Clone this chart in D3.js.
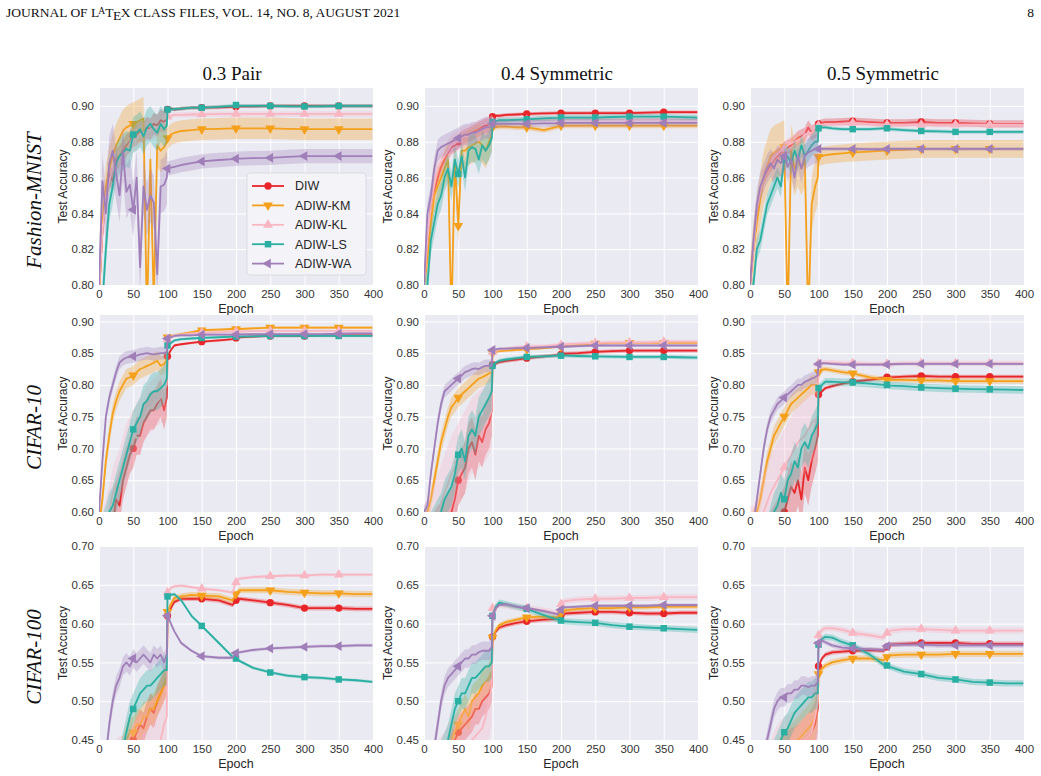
<!DOCTYPE html>
<html>
<head>
<meta charset="utf-8">
<script src="https://cdn.jsdelivr.net/npm/d3@7"></script>
<style>
  body { margin: 0; background: #fff; }
  .tick text { font-family: "Liberation Sans", Arial, sans-serif; font-size: 11.5px; fill: #333; }
  .grid line { stroke: #fff; stroke-width: 1; }
</style>
</head>
<body>
<div id="chart"></div>
<script>
const epochs = [0,5,10,15,20,25,30,35,40,45,50,55,60,65,70,75,80,85,90,95,99,
                100,105,110,120,135,150,175,195,200,205,225,250,275,300,325,350,375,399];

const seriesNames = ["DIW", "ADIW-KM", "ADIW-KL", "ADIW-LS", "ADIW-WA"];
const colTitles = ["0.3 Pair", "0.4 Symmetric", "0.5 Symmetric"];
const rowTitles = ["Fashion-MNIST", "CIFAR-10", "CIFAR-100"];
const yDomains = [[0.80, 0.91], [0.60, 0.91], [0.45, 0.70]];
const yTicks = [
    [0.80, 0.82, 0.84, 0.86, 0.88, 0.90],
    [0.60, 0.65, 0.70, 0.75, 0.80, 0.85, 0.90],
    [0.45, 0.50, 0.55, 0.60, 0.65, 0.70]
];
const xTicks = [0, 50, 100, 150, 200, 250, 300, 350, 400];

// Fashion-MNIST, 0.3 pair
const fmPairDIW = [.795,.83,.85,.862,.858,.87,.872,.875,.878,.88,.883,.884,.886,.885,.888,.887,.89,.889,.892,.891,.893,
    .898,.8985,.898,.8985,.899,.899,.8992,.8995,.8995,.8998,.8998,.900,.900,.900,.900,.900,.900,.900];
const fmPairKM = [.79,.835,.855,.865,.872,.878,.882,.886,.888,.889,.89,.891,.892,.893,.78,.87,.79,.878,.875,.877,.88,
    .882,.884,.885,.886,.8865,.887,.8872,.8875,.8875,.8875,.8875,.8875,.8872,.887,.887,.887,.887,.887];
const fmPairKL = [.795,.83,.848,.858,.864,.868,.87,.873,.875,.877,.88,.882,.884,.885,.886,.887,.888,.888,.889,.89,.891,
    .894,.8945,.895,.895,.8952,.8953,.8955,.8955,.8955,.8955,.8955,.8955,.8955,.8955,.8955,.8955,.8955,.8955];
const fmPairLS = [.78,.79,.82,.845,.855,.868,.872,.874,.876,.875,.884,.885,.887,.883,.888,.89,.887,.885,.89,.887,.889,
    .898,.898,.8982,.8985,.899,.899,.8995,.900,.9005,.900,.900,.900,.8998,.8997,.8998,.900,.900,.900];
const fmPairWA = [.80,.858,.84,.868,.875,.862,.85,.874,.852,.856,.842,.86,.81,.855,.842,.85,.846,.806,.855,.856,.86,
    .865,.8655,.866,.867,.868,.869,.8698,.8703,.8705,.8706,.8708,.871,.8715,.872,.872,.872,.872,.872];

// Fashion-MNIST, 0.4 symmetric
const fm04DIW = [.80,.82,.845,.853,.86,.866,.87,.874,.877,.878,.88,.882,.883,.884,.885,.886,.887,.888,.889,.889,.89,
    .894,.8945,.8945,.895,.8952,.8955,.8958,.896,.896,.896,.896,.896,.896,.896,.8962,.8965,.8965,.8965];
const fm04KM = [.80,.815,.835,.85,.855,.86,.865,.87,.78,.87,.833,.875,.875,.877,.878,.879,.88,.878,.875,.88,.885,
    .888,.8882,.8885,.8885,.888,.888,.8865,.8885,.889,.889,.889,.889,.889,.889,.889,.889,.889,.889];
const fm04KL = [.80,.825,.845,.856,.865,.869,.872,.875,.878,.879,.881,.882,.883,.883,.884,.885,.886,.887,.888,.888,.889,
    .891,.8912,.8915,.8918,.892,.892,.8922,.8925,.8925,.8925,.8925,.8925,.8925,.8925,.8925,.8925,.8925,.8925];
const fm04LS = [.795,.80,.825,.835,.845,.85,.86,.865,.855,.87,.862,.872,.86,.875,.877,.876,.87,.878,.875,.878,.882,
    .891,.8915,.892,.892,.8922,.8925,.893,.8933,.8935,.8935,.8935,.8935,.8938,.894,.894,.894,.8937,.8935];
const fm04WA = [.80,.84,.85,.865,.875,.877,.878,.879,.88,.881,.882,.883,.884,.884,.885,.885,.886,.887,.888,.888,.889,
    .89,.89,.89,.89,.89,.89,.8902,.8903,.8905,.8905,.8905,.8905,.8905,.8905,.8905,.8905,.8905,.8905];

// Fashion-MNIST, 0.5 symmetric
const fm05DIW = [.80,.82,.84,.85,.86,.864,.867,.87,.872,.874,.876,.877,.878,.88,.882,.883,.884,.888,.885,.886,.888,
    .89,.8905,.891,.891,.8912,.8915,.891,.8905,.8905,.8905,.8905,.891,.8905,.8905,.8903,.89,.89,.89];
const fm05KM = [.80,.82,.835,.848,.86,.866,.872,.874,.875,.876,.877,.78,.875,.865,.87,.865,.87,.78,.845,.855,.86,
    .8715,.872,.8725,.873,.8735,.874,.8745,.875,.875,.8752,.8755,.876,.876,.876,.876,.876,.876,.876];
const fm05KL = [.80,.82,.842,.852,.86,.865,.868,.871,.873,.875,.876,.878,.879,.88,.881,.882,.884,.885,.885,.886,.887,
    .889,.8895,.8898,.89,.89,.8905,.89,.8895,.8895,.8895,.8895,.8895,.8895,.8895,.8895,.8895,.8895,.8895];
const fm05LS = [.79,.80,.82,.825,.835,.845,.85,.855,.86,.855,.87,.872,.868,.875,.87,.878,.872,.875,.878,.88,.88,
    .8875,.888,.888,.8875,.887,.887,.887,.8875,.8875,.887,.8865,.886,.8858,.8855,.8855,.8855,.8855,.8855];
const fm05WA = [.80,.825,.845,.855,.86,.865,.868,.865,.87,.868,.872,.866,.87,.86,.872,.865,.872,.874,.875,.876,.876,
    .876,.876,.876,.876,.876,.876,.8758,.8758,.876,.876,.876,.876,.876,.876,.876,.876,.876,.876];

// CIFAR-10, 0.3 pair
const c10PairDIW = [.55,.55,.555,.565,.58,.62,.61,.65,.67,.69,.70,.72,.72,.74,.75,.76,.76,.77,.78,.76,.78,
    .845,.855,.862,.864,.866,.868,.87,.872,.874,.875,.876,.877,.877,.877,.878,.878,.878,.878];
const c10PairKM = [.58,.62,.68,.72,.755,.775,.79,.80,.81,.812,.815,.82,.825,.827,.83,.832,.835,.838,.83,.833,.84,
    .875,.876,.878,.88,.883,.886,.887,.888,.888,.888,.889,.89,.89,.89,.89,.89,.89,.89];
const c10PairKL = [.55,.56,.58,.60,.63,.645,.66,.68,.70,.71,.72,.73,.74,.75,.76,.765,.77,.775,.78,.79,.80,
    .872,.875,.878,.879,.881,.882,.883,.884,.884,.884,.8845,.885,.885,.885,.885,.885,.885,.885];
const c10PairLS = [.55,.565,.58,.60,.61,.63,.65,.67,.69,.71,.73,.74,.75,.77,.775,.785,.79,.79,.795,.80,.81,
    .862,.866,.87,.872,.873,.874,.875,.876,.876,.8762,.8765,.877,.877,.877,.877,.877,.877,.877];
const c10PairWA = [.60,.68,.75,.78,.80,.82,.835,.84,.843,.844,.845,.846,.848,.849,.85,.849,.848,.849,.85,.85,.852,
    .873,.875,.877,.878,.878,.879,.879,.879,.879,.8795,.8797,.88,.88,.88,.88,.8805,.881,.881];

// CIFAR-10, 0.4 symmetric
const c10s4DIW = [.55,.55,.555,.56,.57,.575,.58,.59,.60,.62,.65,.66,.67,.70,.71,.69,.72,.71,.73,.74,.76,
    .832,.834,.836,.838,.84,.842,.845,.847,.848,.849,.85,.852,.853,.854,.854,.854,.854,.854];
const c10s4KM = [.58,.60,.62,.65,.68,.71,.73,.75,.765,.772,.78,.785,.79,.795,.80,.805,.81,.812,.815,.818,.82,
    .85,.852,.853,.854,.855,.856,.858,.86,.86,.861,.863,.865,.866,.866,.866,.866,.866,.866];
const c10s4KL = [.55,.56,.57,.585,.60,.615,.63,.645,.66,.67,.68,.69,.70,.71,.72,.725,.73,.735,.74,.75,.76,
    .852,.854,.856,.857,.859,.86,.861,.863,.863,.864,.865,.866,.867,.867,.867,.868,.868,.868];
const c10s4LS = [.55,.56,.57,.58,.59,.60,.62,.63,.64,.66,.69,.70,.68,.72,.73,.72,.75,.76,.77,.78,.79,
    .83,.835,.838,.84,.842,.844,.845,.846,.846,.846,.8455,.845,.8445,.844,.844,.844,.8435,.843];
const c10s4WA = [.60,.61,.66,.70,.74,.77,.79,.795,.80,.805,.81,.815,.82,.822,.825,.826,.825,.828,.83,.83,.83,
    .855,.856,.857,.857,.858,.858,.859,.86,.86,.86,.861,.862,.862,.862,.862,.862,.862,.862];

// CIFAR-10, 0.5 symmetric
const c10s5DIW = [.55,.55,.55,.55,.55,.555,.56,.57,.58,.59,.60,.62,.64,.63,.65,.62,.67,.65,.68,.70,.72,
    .785,.79,.795,.798,.802,.805,.808,.811,.812,.812,.813,.814,.813,.813,.813,.813,.813,.813];
const c10s5KM = [.58,.59,.60,.62,.65,.68,.70,.72,.73,.74,.75,.76,.77,.775,.78,.785,.79,.795,.80,.80,.80,
    .82,.824,.825,.823,.82,.818,.812,.809,.808,.808,.808,.807,.807,.806,.806,.806,.806,.806];
const c10s5KL = [.55,.55,.56,.58,.60,.615,.63,.64,.65,.66,.67,.68,.69,.70,.71,.715,.72,.73,.74,.745,.75,
    .834,.835,.835,.835,.834,.834,.833,.833,.833,.833,.834,.834,.834,.834,.834,.834,.834,.834];
const c10s5LS = [.55,.55,.55,.55,.55,.56,.58,.60,.61,.63,.62,.65,.66,.68,.67,.70,.71,.70,.72,.73,.74,
    .795,.80,.805,.805,.804,.804,.802,.80,.80,.799,.798,.796,.795,.794,.7935,.793,.7925,.792];
const c10s5WA = [.55,.58,.62,.66,.70,.73,.75,.76,.77,.775,.78,.785,.79,.795,.80,.80,.805,.807,.81,.812,.815,
    .833,.834,.834,.833,.832,.832,.832,.832,.832,.8325,.833,.833,.833,.833,.833,.833,.833,.833];

// CIFAR-100, 0.3 pair
const c100PairDIW = [.38,.38,.38,.385,.39,.40,.41,.415,.42,.44,.45,.46,.47,.465,.48,.49,.485,.50,.51,.52,.53,
    .61,.62,.628,.632,.632,.632,.63,.624,.63,.632,.63,.627,.624,.62,.62,.62,.619,.619];
const c100PairKM = [.38,.38,.385,.39,.40,.41,.42,.435,.45,.46,.46,.47,.47,.48,.48,.49,.49,.50,.51,.52,.53,
    .615,.625,.633,.635,.637,.636,.635,.63,.638,.643,.643,.643,.641,.64,.639,.639,.638,.638];
const c100PairKL = [.38,.385,.39,.395,.40,.40,.405,.405,.41,.415,.42,.425,.43,.432,.435,.44,.44,.445,.45,.47,.48,
    .64,.646,.648,.649,.647,.645,.643,.64,.653,.658,.66,.661,.662,.662,.663,.663,.663,.663];
const c100PairLS = [.38,.38,.385,.39,.40,.41,.42,.44,.46,.48,.49,.50,.51,.515,.52,.52,.525,.53,.535,.54,.54,
    .635,.637,.638,.63,.61,.597,.575,.557,.555,.552,.543,.537,.533,.531,.53,.528,.527,.525];
const c100PairWA = [.40,.41,.43,.47,.50,.52,.53,.545,.55,.545,.555,.55,.555,.56,.555,.55,.56,.555,.56,.55,.56,
    .61,.60,.59,.575,.565,.558,.556,.556,.562,.563,.566,.568,.569,.57,.571,.571,.572,.572];

// CIFAR-100, 0.4 symmetric
const c100s4DIW = [.38,.38,.385,.39,.40,.41,.42,.43,.44,.45,.46,.465,.47,.475,.48,.49,.49,.50,.505,.51,.52,
    .583,.59,.595,.598,.601,.603,.605,.606,.611,.613,.614,.615,.615,.614,.613,.613,.614,.614];
const c100s4KM = [.38,.38,.385,.39,.40,.41,.42,.435,.45,.46,.47,.48,.49,.48,.50,.505,.51,.52,.525,.53,.54,
    .582,.592,.598,.602,.605,.608,.609,.608,.613,.617,.619,.62,.62,.621,.621,.622,.622,.622];
const c100s4KL = [.38,.385,.39,.395,.40,.405,.41,.42,.43,.432,.435,.437,.44,.445,.45,.455,.46,.465,.48,.50,.52,
    .62,.622,.624,.623,.621,.62,.617,.613,.625,.629,.631,.632,.632,.633,.633,.634,.634,.634];
const c100s4LS = [.40,.40,.405,.41,.42,.43,.44,.45,.47,.49,.50,.51,.51,.52,.53,.53,.535,.54,.545,.545,.55,
    .61,.622,.627,.625,.622,.619,.611,.605,.604,.603,.602,.601,.598,.596,.595,.594,.593,.592];
const c100s4WA = [.38,.39,.41,.44,.47,.50,.52,.53,.535,.54,.545,.55,.555,.555,.56,.56,.563,.565,.565,.565,.57,
    .61,.62,.624,.625,.622,.62,.616,.612,.618,.621,.622,.623,.623,.623,.623,.624,.624,.624];

// CIFAR-100, 0.5 symmetric
const c100s5DIW = [.38,.38,.38,.385,.39,.39,.395,.40,.41,.42,.43,.432,.435,.437,.44,.445,.45,.455,.46,.47,.49,
    .545,.555,.56,.563,.564,.565,.566,.565,.57,.573,.574,.575,.575,.575,.574,.574,.574,.574];
const c100s5KM = [.38,.38,.38,.385,.39,.395,.40,.41,.42,.425,.43,.435,.44,.445,.45,.455,.46,.465,.47,.48,.50,
    .535,.542,.546,.55,.553,.555,.555,.553,.557,.559,.56,.56,.56,.561,.561,.561,.561,.561];
const c100s5KL = [.38,.38,.38,.385,.39,.395,.40,.41,.42,.425,.43,.432,.435,.437,.44,.445,.45,.455,.46,.48,.50,
    .585,.592,.594,.594,.592,.588,.585,.582,.588,.591,.593,.593,.592,.591,.591,.591,.591,.591];
const c100s5LS = [.38,.38,.385,.39,.40,.41,.42,.43,.44,.45,.46,.465,.475,.485,.49,.495,.50,.505,.505,.51,.51,
    .573,.58,.583,.582,.576,.572,.56,.547,.546,.544,.538,.535,.53,.528,.525,.524,.523,.523];
const c100s5WA = [.38,.39,.40,.41,.43,.45,.47,.49,.50,.505,.505,.51,.51,.515,.515,.52,.52,.518,.52,.52,.525,
    .575,.578,.576,.572,.569,.568,.567,.566,.571,.573,.573,.573,.572,.572,.572,.572,.572,.572];

// std half-widths of the shaded bands, [before epoch 100, after]
const fmPairBand = [[.006,.001],[.012,.006],[.006,.0015],[.01,.001],[.015,.004]];
const fm04Band = [[.004,.001],[.01,.0015],[.006,.002],[.008,.0015],[.006,.002]];
const fm05Band = [[.004,.002],[.015,.005],[.004,.0015],[.006,.001],[.008,.001]];
const c10PairBand = [[.03,.002],[.015,.002],[.04,.002],[.03,.002],[.01,.002]];
const c10s4Band = [[.04,.003],[.015,.002],[.06,.003],[.03,.003],[.01,.002]];
const c10s5Band = [[.04,.003],[.015,.004],[.06,.004],[.03,.006],[.01,.002]];
const c100PairBand = [[.02,.003],[.02,.004],[.05,.002],[.02,.002],[.012,.002]];
const c100s4Band = [[.02,.003],[.02,.003],[.05,.004],[.02,.004],[.012,.002]];
const c100s5Band = [[.03,.003],[.03,.004],[.05,.004],[.02,.004],[.012,.003]];

const panels = [
    { row: 0, col: 0, series: [fmPairDIW, fmPairKM, fmPairKL, fmPairLS, fmPairWA], band: fmPairBand },
    { row: 0, col: 1, series: [fm04DIW, fm04KM, fm04KL, fm04LS, fm04WA], band: fm04Band },
    { row: 0, col: 2, series: [fm05DIW, fm05KM, fm05KL, fm05LS, fm05WA], band: fm05Band },
    { row: 1, col: 0, series: [c10PairDIW, c10PairKM, c10PairKL, c10PairLS, c10PairWA], band: c10PairBand },
    { row: 1, col: 1, series: [c10s4DIW, c10s4KM, c10s4KL, c10s4LS, c10s4WA], band: c10s4Band },
    { row: 1, col: 2, series: [c10s5DIW, c10s5KM, c10s5KL, c10s5LS, c10s5WA], band: c10s5Band },
    { row: 2, col: 0, series: [c100PairDIW, c100PairKM, c100PairKL, c100PairLS, c100PairWA], band: c100PairBand },
    { row: 2, col: 1, series: [c100s4DIW, c100s4KM, c100s4KL, c100s4LS, c100s4WA], band: c100s4Band },
    { row: 2, col: 2, series: [c100s5DIW, c100s5KM, c100s5KL, c100s5LS, c100s5WA], band: c100s5Band }
];

// styling
const colors = ["#e8262a", "#f5a01a", "#f8b6c2", "#2ab0a3", "#a07fb9"];
const symbols = [
    { type: d3.symbolCircle, rot: 0 },
    { type: d3.symbolTriangle, rot: 180 },
    { type: d3.symbolTriangle, rot: 0 },
    { type: d3.symbolSquare, rot: 0 },
    { type: d3.symbolTriangle, rot: -90 }
];
const colX = [99, 424, 750];
const plotW = 274;
const rowY = [88, 315, 546];
const rowH = [197, 197, 194];
const sans = '"Liberation Sans", Arial, sans-serif';
const serif = '"Liberation Serif", "Times New Roman", serif';

const svg = d3.select("#chart").append("svg")
    .attr("width", 1041)
    .attr("height", 776);
svg.append("rect").attr("width", 1041).attr("height", 776).attr("fill", "#fff");

// page header
const header = svg.append("text")
    .attr("x", 6).attr("y", 17)
    .attr("font-family", serif).attr("font-size", 13.5).attr("fill", "#111");
header.append("tspan").text("JOURNAL OF L");
header.append("tspan").text("A").attr("font-size", 9.5).attr("dx", -1).attr("dy", -3);
header.append("tspan").text("T").attr("dx", 0).attr("dy", 3);
header.append("tspan").text("E").attr("dx", -0.5).attr("dy", 3);
header.append("tspan").text("X").attr("dx", -0.5).attr("dy", -3);
header.append("tspan").text(" CLASS FILES, VOL. 14, NO. 8, AUGUST 2021");
svg.append("text")
    .attr("x", 1034).attr("y", 17).attr("text-anchor", "end")
    .attr("font-family", serif).attr("font-size", 13.5).attr("fill", "#111")
    .text("8");

// column titles and row labels
colTitles.forEach((t, c) => {
    svg.append("text")
        .attr("x", colX[c] + plotW / 2 - 4).attr("y", 80)
        .attr("text-anchor", "middle")
        .attr("font-family", serif).attr("font-size", 19).attr("fill", "#111")
        .text(t);
});
rowTitles.forEach((t, r) => {
    const cy = rowY[r] + rowH[r] / 2 + 14;
    svg.append("text")
        .attr("transform", `translate(41,${cy}) rotate(-90)`)
        .attr("text-anchor", "middle")
        .attr("font-family", serif).attr("font-size", 21)
        .attr("font-style", "italic").attr("fill", "#111")
        .text(t);
});

const markIdx = epochs.map((e, i) => (e > 0 && e < 400 && e % 50 === 0) ? i : -1).filter(i => i >= 0);

panels.forEach((p, pi) => {
    const x0 = colX[p.col], y0 = rowY[p.row], h = rowH[p.row];
    const x = d3.scaleLinear().domain([0, 400]).range([x0, x0 + plotW]);
    const y = d3.scaleLinear().domain(yDomains[p.row]).range([y0 + h, y0]);
    const g = svg.append("g");

    g.append("rect")
        .attr("x", x0).attr("y", y0).attr("width", plotW).attr("height", h)
        .attr("fill", "#eaeaf2");

    // grid
    g.append("g").attr("class", "grid")
        .attr("transform", `translate(0,${y0 + h})`)
        .call(d3.axisBottom(x).tickValues(xTicks).tickSize(-h).tickFormat(""))
        .call(s => s.select(".domain").remove());
    g.append("g").attr("class", "grid")
        .attr("transform", `translate(${x0},0)`)
        .call(d3.axisLeft(y).tickValues(yTicks[p.row]).tickSize(-plotW).tickFormat(""))
        .call(s => s.select(".domain").remove());

    // tick labels
    g.append("g")
        .attr("transform", `translate(0,${y0 + h})`)
        .call(d3.axisBottom(x).tickValues(xTicks).tickSize(0).tickPadding(5))
        .call(s => s.select(".domain").remove());
    g.append("g")
        .attr("transform", `translate(${x0},0)`)
        .call(d3.axisLeft(y).tickValues(yTicks[p.row]).tickFormat(d3.format(".2f")).tickSize(0).tickPadding(5))
        .call(s => s.select(".domain").remove());

    g.append("text")
        .attr("x", x0 + plotW / 2).attr("y", y0 + h + 28)
        .attr("text-anchor", "middle")
        .attr("font-family", sans).attr("font-size", 12.5).attr("fill", "#262626")
        .text("Epoch");
    g.append("text")
        .attr("transform", `translate(${x0 - 32},${y0 + h / 2}) rotate(-90)`)
        .attr("text-anchor", "middle")
        .attr("font-family", sans).attr("font-size", 12).attr("fill", "#262626")
        .text("Test Accuracy");

    // data
    const clipId = "clip" + pi;
    svg.append("clipPath").attr("id", clipId)
        .append("rect").attr("x", x0).attr("y", y0).attr("width", plotW).attr("height", h);
    const plot = g.append("g").attr("clip-path", `url(#${clipId})`);

    p.series.forEach((vals, si) => {
        const bw = i => (epochs[i] < 100 ? p.band[si][0] : p.band[si][1]);
        const area = d3.area()
            .x((d, i) => x(epochs[i]))
            .y0((d, i) => y(d - bw(i)))
            .y1((d, i) => y(d + bw(i)));
        const line = d3.line()
            .x((d, i) => x(epochs[i]))
            .y(d => y(d));
        plot.append("path").datum(vals)
            .attr("d", area)
            .attr("fill", colors[si]).attr("fill-opacity", 0.3);
        plot.append("path").datum(vals)
            .attr("d", line)
            .attr("fill", "none").attr("stroke", colors[si])
            .attr("stroke-width", 1.8).attr("stroke-linejoin", "round");
        plot.selectAll(null).data(markIdx).join("path")
            .attr("d", d3.symbol().type(symbols[si].type).size(42))
            .attr("transform", i => `translate(${x(epochs[i])},${y(vals[i])}) rotate(${symbols[si].rot})`)
            .attr("fill", colors[si]);
    });

    // legend in the first panel
    if (pi === 0) {
        const lg = g.append("g");
        lg.append("rect")
            .attr("x", 247).attr("y", 173).attr("width", 119).attr("height", 102).attr("rx", 3)
            .attr("fill", "#f4f4f8").attr("stroke", "#d4d4da").attr("stroke-width", 0.8);
        seriesNames.forEach((name, si) => {
            const ly = 186 + si * 19.4;
            lg.append("line")
                .attr("x1", 252).attr("x2", 284).attr("y1", ly).attr("y2", ly)
                .attr("stroke", colors[si]).attr("stroke-width", 1.8);
            lg.append("path")
                .attr("d", d3.symbol().type(symbols[si].type).size(42))
                .attr("transform", `translate(268,${ly}) rotate(${symbols[si].rot})`)
                .attr("fill", colors[si]);
            lg.append("text")
                .attr("x", 295).attr("y", ly).attr("dy", "0.35em")
                .attr("font-family", sans).attr("font-size", 12.5).attr("fill", "#262626")
                .text(name);
        });
    }
});
</script>
</body>
</html>
